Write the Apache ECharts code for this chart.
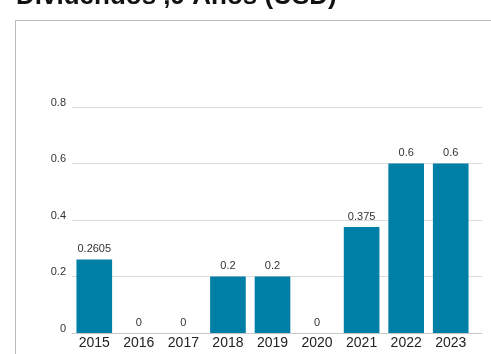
<!DOCTYPE html>
<html>
<head>
<meta charset="utf-8">
<script src="https://cdn.jsdelivr.net/npm/echarts@6/dist/echarts.min.js"></script>
<style>
  html, body { margin: 0; padding: 0; background: #fff; }
  #chart { width: 491px; height: 354px; }
</style>
</head>
<body>
<div id="chart"></div>
<script>
const years = ['2015', '2016', '2017', '2018', '2019', '2020', '2021', '2022', '2023'];
const dividends = [0.2605, 0, 0, 0.2, 0.2, 0, 0.375, 0.6, 0.6];
const yTicks = [0, 0.2, 0.4, 0.6, 0.8];

const chart = echarts.init(document.getElementById('chart'));
const font = "'Liberation Sans', Arial, sans-serif";

chart.setOption({
  animation: false,
  graphic: [
    {
      type: 'rect',
      shape: { x: 15.5, y: 20.5, width: 520, height: 400 },
      style: { fill: 'none', stroke: '#bbbbbb', lineWidth: 1 }
    },
    {
      type: 'text',
      x: 16,
      y: -16,
      style: {
        text: 'Dividendos ,9 Años (USD)',
        font: "bold 26px 'Liberation Sans', Arial, sans-serif",
        fill: '#111'
      }
    }
  ],
  grid: [
    { left: 72, right: 9, top: 107, bottom: 21 },
    { left: 72, right: 18, top: 107, bottom: 21 }
  ],
  xAxis: [
    {
      type: 'category',
      gridIndex: 0,
      data: [''],
      axisLine: { lineStyle: { color: '#c8c8c8' } },
      axisTick: { show: false },
      axisLabel: { show: false }
    },
    {
      type: 'category',
      gridIndex: 1,
      data: years,
      axisLine: { show: false },
      axisTick: { show: false },
      axisLabel: { color: '#222', fontSize: 14, fontFamily: font, margin: 3 }
    }
  ],
  yAxis: [
    {
      type: 'value',
      gridIndex: 0,
      min: yTicks[0],
      max: yTicks[yTicks.length - 1],
      interval: 0.2,
      axisLine: { show: false },
      axisTick: { show: false },
      splitLine: { lineStyle: { color: '#dcdcdc' } },
      axisLabel: {
        color: '#333',
        fontSize: 11,
        fontFamily: font,
        margin: 6,
        verticalAlign: 'bottom',
        lineHeight: 9
      }
    },
    {
      type: 'value',
      gridIndex: 1,
      min: yTicks[0],
      max: yTicks[yTicks.length - 1],
      show: false,
      splitLine: { show: false }
    }
  ],
  series: [
    {
      type: 'bar',
      xAxisIndex: 1,
      yAxisIndex: 1,
      data: dividends,
      barCategoryGap: '20%',
      itemStyle: { color: '#007fa6' },
      label: {
        show: true,
        position: 'top',
        distance: 5,
        color: '#333',
        fontSize: 11,
        fontFamily: font
      }
    }
  ]
});
</script>
</body>
</html>
